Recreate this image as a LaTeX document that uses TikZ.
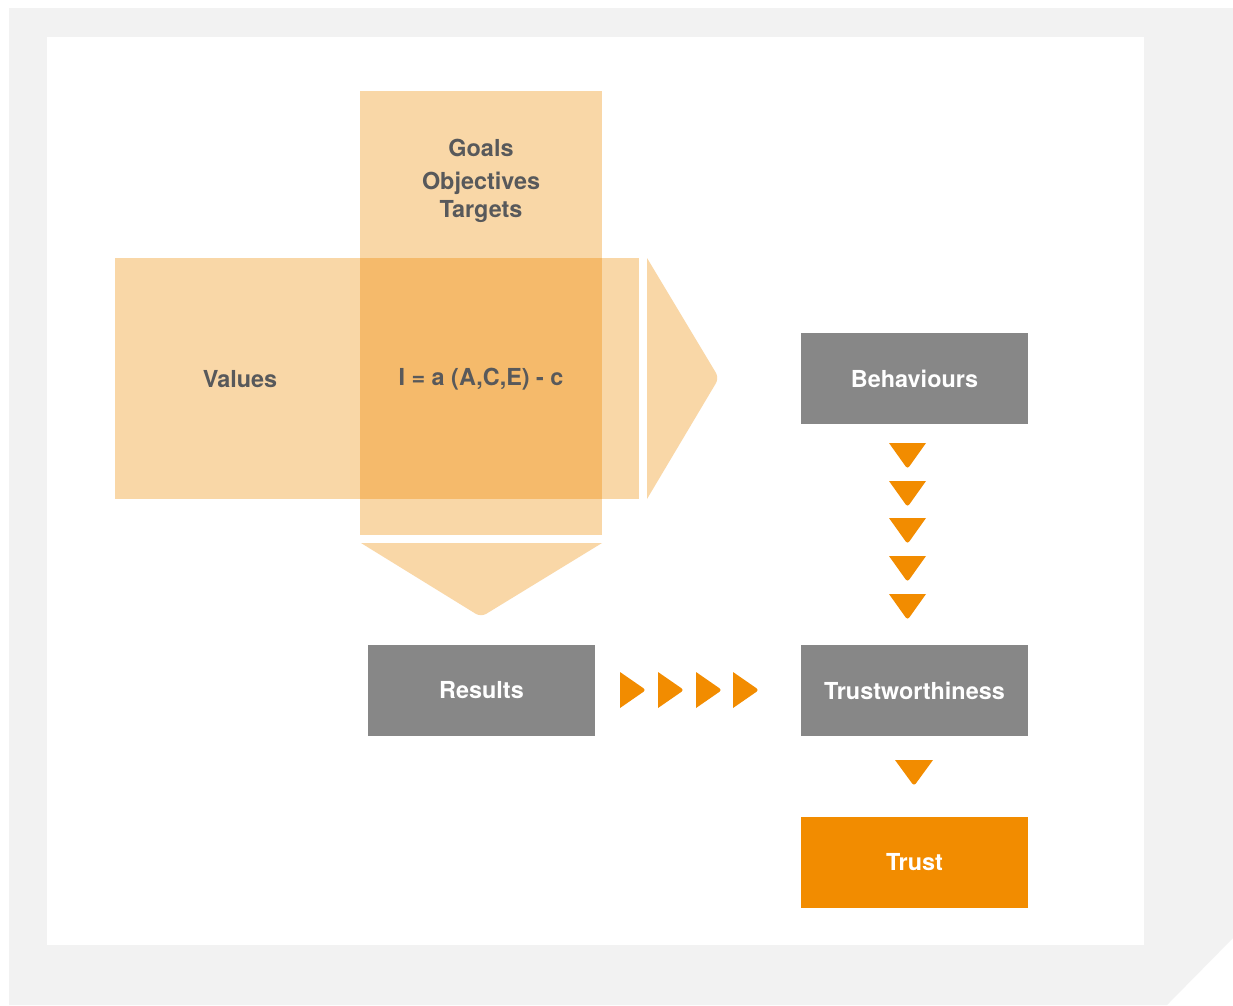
\documentclass[tikz,border=0pt]{standalone}
\usepackage{fontspec}
\setmainfont{TeX Gyre Heros}
\usetikzlibrary{positioning}

\definecolor{framegray}{HTML}{F2F2F2}
\definecolor{paleorange}{HTML}{F9D7A7}
\definecolor{mixorange}{HTML}{F5BA6B}
\definecolor{boxgray}{HTML}{878787}
\definecolor{trustorange}{HTML}{F28C00}
\definecolor{textgray}{HTML}{58595B}

\tikzset{
  label text/.style={font=\fontsize{23.4}{28}\selectfont\bfseries, inner sep=0pt},
  dark text/.style={label text, text=textgray},
  stagebox/.style={label text, text=white, fill=boxgray, minimum width=227pt, minimum height=91pt},
  trustbox/.style={stagebox, fill=trustorange},
}

\begin{document}
\begin{tikzpicture}[x=1pt, y=-1pt, line join=bevel]
  \useasboundingbox (0,0) rectangle (1233,1005);
  \fill[white] (0,0) rectangle (1233,1005);
  % frame with the cut corner
  \fill[framegray] (9,8) -- (1233,8) -- (1233,938) -- (1167,1005) -- (9,1005) -- cycle;
  \fill[white] (47,37) rectangle (1144,945);

  % crossing bands
  \fill[paleorange] (360,91) rectangle (602,535);
  \fill[paleorange] (115,258) rectangle (639,499);
  \fill[mixorange] (360,258) rectangle (602,499);
  \fill[paleorange] (647,258) [rounded corners=6] -- (719,378) [sharp corners] -- (647,499) -- cycle;
  \fill[paleorange] (361,543) -- (602,543) [rounded corners=6] -- (481,617) [sharp corners] -- cycle;

  \node[dark text] (goals) at (481,148) {Goals};
  \node[dark text] (objectives) at (481,183) {Objectives};
  \node[dark text] (targets) at (481,212) {Targets};
  \node[dark text] (values) at (240,379) {Values};
  \node[dark text] (formula) at (481,379) {I = a (A,C,E) - c};

  \node[stagebox] (behaviours) at (914.5,378.5) {Behaviours};
  \node[stagebox] (results) at (481.5,690.5) {Results};
  \node[stagebox] (trustworthiness) at (914.5,690.5) {Trustworthiness};
  \node[trustbox] (trust) at (914.5,862.5) {Trust};

  % chevrons between the boxes
  \foreach \ty in {443,481,518,556,594}
    \fill[trustorange] (889,\ty) [rounded corners=3] -- (907.5,\ty+26) [sharp corners] -- (926,\ty) -- cycle;
  \fill[trustorange] (895,760) [rounded corners=3] -- (914,786) [sharp corners] -- (933,760) -- cycle;
  \foreach \tx in {620,658,696,733}
    \fill[trustorange] (\tx,672) [rounded corners=3] -- (\tx+26,690) [sharp corners] -- (\tx,708) -- cycle;
\end{tikzpicture}
\end{document}
